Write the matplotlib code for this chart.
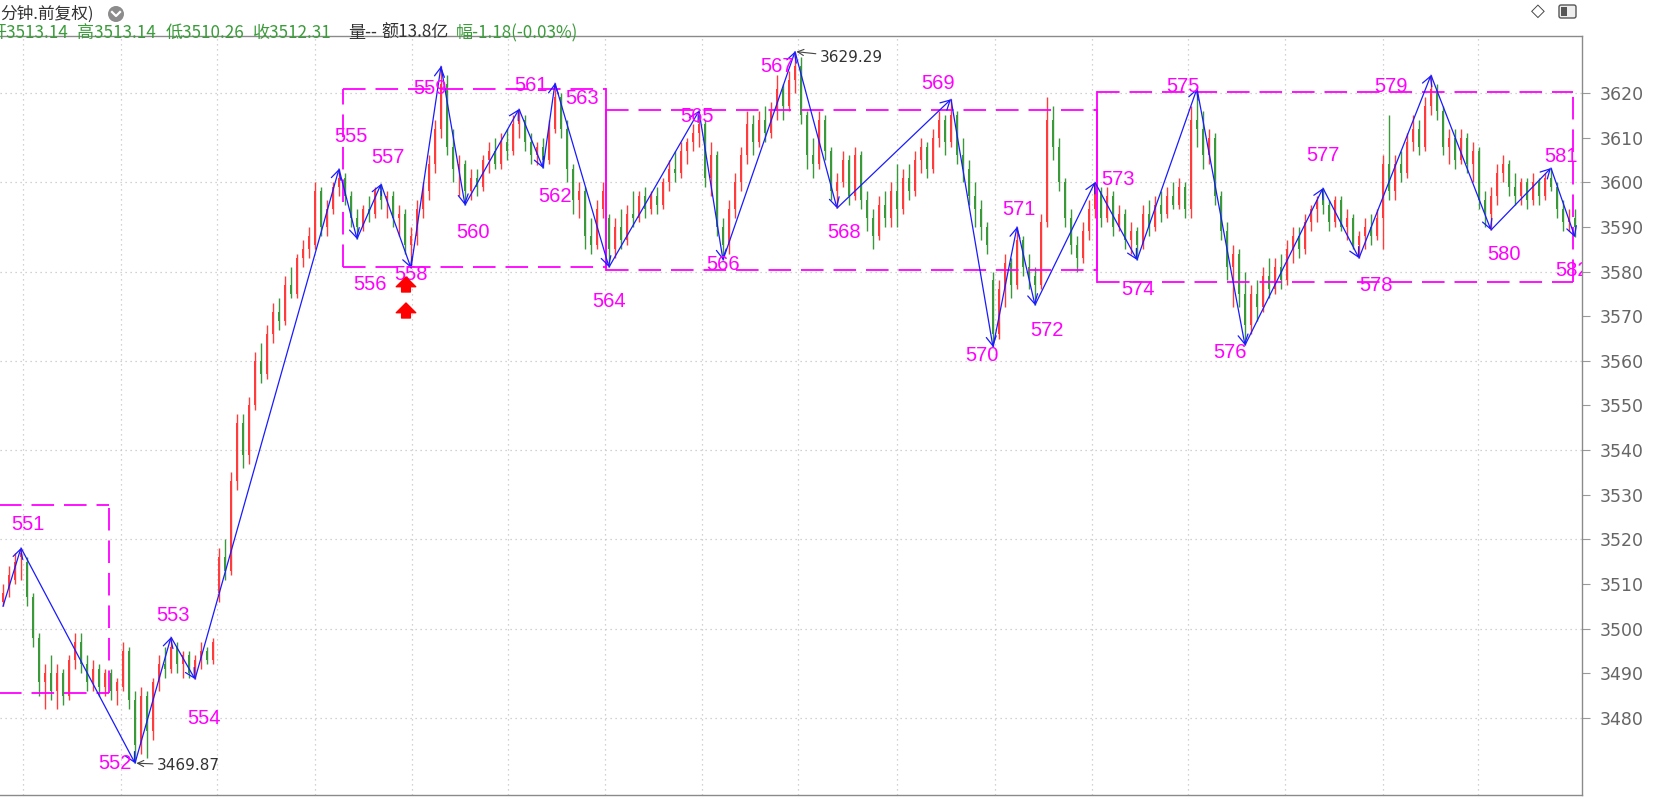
import numpy as np
import matplotlib.pyplot as plt
import matplotlib.transforms as mtransforms
from matplotlib.patches import Circle, FancyBboxPatch, Rectangle
from matplotlib.lines import Line2D

# ---- candle data (one bar per slot) ----
opens = [
    3506, 3509, 3511, 3516, 3515, 3507, 3498, 3488, 3490, 3486,
    3490, 3485, 3493, 3497, 3492, 3488, 3491, 3487, 3490, 3486,
    3487, 3495, 3484, 3474, 3485, 3477, 3488, 3492, 3491, 3496,
    3492, 3494, 3490, 3493, 3495, 3493, 3508, 3516, 3513, 3533,
    3546, 3539, 3550, 3560, 3557, 3566, 3571, 3569, 3577, 3575,
    3583, 3585, 3586, 3598, 3590, 3594, 3599, 3601, 3597, 3592,
    3590, 3594, 3593, 3598, 3596, 3597, 3592, 3593, 3586, 3588,
    3594, 3598, 3604, 3612, 3622, 3608, 3603, 3604, 3598, 3601,
    3599, 3605, 3607, 3604, 3609, 3607, 3613, 3614, 3609, 3606,
    3608, 3605, 3612, 3619, 3612, 3603, 3596, 3598, 3588, 3586,
    3594, 3592, 3585, 3590, 3587, 3593, 3592, 3597, 3594, 3597,
    3595, 3600, 3603, 3602, 3607, 3609, 3611, 3613, 3601, 3606,
    3590, 3586, 3594, 3600, 3606, 3613, 3609, 3614, 3611, 3616,
    3621, 3617, 3623, 3626, 3615, 3606, 3604, 3614, 3607, 3598,
    3600, 3605, 3597, 3606, 3596, 3592, 3588, 3595, 3592, 3598,
    3594, 3601, 3598, 3605, 3608, 3603, 3610, 3614, 3609, 3615,
    3606, 3603, 3597, 3594, 3590, 3578, 3566, 3576, 3582, 3577,
    3587, 3581, 3579, 3577, 3591, 3614, 3608, 3600, 3592, 3586,
    3583, 3589, 3594, 3598, 3592, 3597, 3590, 3593, 3587, 3589,
    3586, 3593, 3590, 3595, 3593, 3597, 3595, 3599, 3594, 3614,
    3612, 3606, 3610, 3597, 3589, 3581, 3584, 3575, 3568, 3575,
    3572, 3579, 3576, 3581, 3578, 3585, 3588, 3585, 3591, 3594,
    3596, 3595, 3591, 3596, 3590, 3592, 3586, 3588, 3590, 3588,
    3592, 3604, 3598, 3604, 3602, 3609, 3612, 3608, 3617, 3621,
    3616, 3608, 3610, 3605, 3610, 3604, 3607, 3596, 3593, 3597,
    3602, 3604, 3599, 3597, 3600, 3596, 3600, 3597, 3601, 3599,
    3594, 3591, 3592,
]
highs = [
    3510, 3514, 3517, 3518.1, 3516, 3508, 3499, 3492, 3494, 3492,
    3491, 3494, 3499, 3499, 3494, 3493, 3492, 3491, 3491, 3489,
    3497, 3496, 3486, 3487, 3486, 3489, 3494, 3496, 3498.1, 3497,
    3495, 3495, 3494, 3497, 3496, 3498, 3518, 3520, 3535, 3548,
    3548, 3552, 3562, 3564, 3568, 3573, 3574, 3579, 3581, 3584,
    3587, 3590, 3600, 3599, 3596, 3600, 3603, 3602, 3598, 3594,
    3595, 3597, 3599, 3599.6, 3598, 3598, 3595, 3594, 3590, 3596,
    3600, 3606, 3614, 3626, 3624, 3612, 3606, 3605, 3603, 3603,
    3606, 3609, 3610, 3611, 3612, 3615, 3616.4, 3615, 3611, 3609,
    3610, 3614, 3622.2, 3620, 3614, 3604, 3600, 3599, 3592, 3596,
    3600, 3593, 3592, 3594, 3595, 3598, 3598, 3599, 3598, 3599,
    3601, 3605, 3607, 3609, 3610, 3613, 3616, 3614, 3609, 3607,
    3592, 3596, 3602, 3608, 3616, 3615, 3616, 3617, 3618, 3624,
    3622, 3625, 3629.29, 3628, 3616, 3610, 3616, 3615, 3608, 3602,
    3607, 3606, 3608, 3607, 3598, 3594, 3597, 3598, 3600, 3604,
    3603, 3604, 3607, 3610, 3609, 3612, 3616, 3615, 3618.6, 3616,
    3610, 3605, 3600, 3596, 3591, 3580, 3578, 3584, 3583, 3590,
    3588, 3584, 3581, 3593, 3619, 3617, 3610, 3601, 3594, 3588,
    3591, 3596, 3600, 3599, 3599, 3598, 3595, 3594, 3591, 3590,
    3595, 3596, 3597, 3598, 3599, 3600, 3601, 3600, 3617, 3621,
    3616, 3612, 3611, 3598, 3591, 3586, 3585, 3580, 3577, 3578,
    3581, 3583, 3583, 3584, 3587, 3590, 3590, 3593, 3595, 3597,
    3598.7, 3596, 3597, 3597, 3594, 3593, 3589, 3592, 3593, 3594,
    3606, 3615, 3606, 3607, 3611, 3615, 3614, 3619, 3624, 3622,
    3617, 3612, 3612, 3612, 3611, 3609, 3608, 3598, 3599, 3604,
    3606, 3605, 3602, 3601, 3601, 3602, 3601, 3602, 3603.2, 3600,
    3596, 3594, 3594,
]
lows = [
    3505, 3507, 3510, 3511, 3505, 3496, 3485, 3482, 3484, 3482,
    3483, 3484, 3491, 3490, 3486, 3486, 3485, 3485, 3484, 3483,
    3486, 3482, 3469.87, 3472, 3471, 3475, 3486, 3489, 3490, 3490,
    3489, 3489, 3488.7, 3491, 3492, 3492, 3506, 3511, 3512, 3531,
    3536, 3537, 3549, 3555, 3556, 3564, 3567, 3568, 3574, 3574,
    3581, 3583, 3585, 3588, 3588, 3593, 3597, 3595, 3590, 3587.3,
    3589, 3591, 3592, 3594, 3592, 3590, 3588, 3584, 3580.8, 3586,
    3592, 3596, 3602, 3610, 3606, 3600, 3597, 3594.9, 3596, 3597,
    3598, 3602, 3603, 3603, 3605, 3606, 3610, 3607, 3604, 3603.8,
    3603.2, 3604, 3611, 3610, 3600, 3593, 3592, 3585, 3584, 3585,
    3592, 3581, 3583, 3585, 3586, 3590, 3591, 3592, 3593, 3593,
    3594, 3598, 3600, 3601, 3604, 3607, 3608, 3599, 3597, 3588,
    3582.6, 3584, 3592, 3598, 3604, 3606, 3608, 3609, 3610, 3614,
    3614, 3616, 3620, 3613, 3603, 3601, 3603, 3605, 3596, 3594.2,
    3599, 3595, 3596, 3594, 3589, 3585, 3587, 3590, 3590, 3590,
    3593, 3596, 3597, 3602, 3601, 3602, 3608, 3606, 3608, 3604,
    3600, 3595, 3590, 3587, 3584, 3563.1, 3565, 3572, 3574, 3576,
    3579, 3576, 3572.5, 3576, 3590, 3605, 3598, 3590, 3584, 3580,
    3582, 3587, 3592, 3590, 3591, 3588, 3589, 3585, 3584, 3582.6,
    3585, 3588, 3589, 3591, 3592, 3594, 3594, 3592, 3592, 3608,
    3603, 3604, 3595, 3587, 3578, 3572, 3572, 3563.5, 3566, 3569,
    3571, 3574, 3575, 3576, 3577, 3582, 3583, 3584, 3589, 3591,
    3593, 3589, 3590, 3589, 3587, 3585, 3583, 3585, 3586, 3587,
    3585, 3596, 3596, 3600, 3601, 3607, 3606, 3607, 3615, 3614,
    3606, 3604, 3603, 3604, 3602, 3600, 3594, 3590, 3589.3, 3595,
    3600, 3597, 3595, 3595, 3594, 3595, 3595, 3596, 3598, 3592,
    3589, 3589, 3587.7,
]
closes = [
    3508, 3512, 3515, 3517, 3507, 3498, 3488, 3490, 3486, 3490,
    3485, 3493, 3497, 3492, 3488, 3491, 3487, 3490, 3486, 3488,
    3495, 3484, 3474, 3485, 3477, 3488, 3492, 3491, 3496, 3492,
    3494, 3490, 3493, 3495, 3493, 3497, 3516, 3513, 3533, 3546,
    3539, 3550, 3560, 3557, 3566, 3571, 3569, 3577, 3575, 3583,
    3585, 3588, 3598, 3590, 3594, 3599, 3601, 3597, 3592, 3590,
    3594, 3593, 3598, 3596, 3597, 3592, 3593, 3586, 3588, 3594,
    3598, 3604, 3612, 3622, 3608, 3603, 3604, 3598, 3601, 3599,
    3605, 3607, 3604, 3609, 3607, 3613, 3614, 3609, 3606, 3608,
    3605, 3612, 3619, 3612, 3603, 3596, 3598, 3588, 3586, 3594,
    3598, 3585, 3590, 3587, 3593, 3592, 3597, 3594, 3597, 3595,
    3600, 3603, 3602, 3607, 3609, 3611, 3613, 3601, 3606, 3590,
    3586, 3594, 3600, 3606, 3613, 3609, 3614, 3611, 3616, 3621,
    3617, 3623, 3626, 3615, 3606, 3604, 3614, 3607, 3598, 3600,
    3605, 3597, 3606, 3596, 3592, 3588, 3595, 3592, 3598, 3594,
    3601, 3598, 3605, 3608, 3603, 3610, 3614, 3609, 3615, 3606,
    3603, 3597, 3594, 3590, 3586, 3566, 3576, 3582, 3577, 3587,
    3581, 3579, 3577, 3591, 3614, 3608, 3600, 3592, 3586, 3583,
    3589, 3594, 3598, 3592, 3597, 3590, 3593, 3587, 3589, 3586,
    3593, 3590, 3595, 3593, 3597, 3595, 3599, 3594, 3614, 3612,
    3606, 3610, 3597, 3589, 3581, 3584, 3575, 3568, 3575, 3572,
    3579, 3576, 3581, 3578, 3585, 3588, 3585, 3591, 3594, 3596,
    3595, 3591, 3596, 3590, 3592, 3586, 3588, 3590, 3588, 3592,
    3604, 3598, 3604, 3602, 3609, 3612, 3608, 3617, 3621, 3616,
    3608, 3610, 3605, 3610, 3604, 3607, 3596, 3593, 3597, 3602,
    3604, 3599, 3597, 3600, 3596, 3600, 3597, 3601, 3599, 3594,
    3591, 3592, 3590,
]

# ---- zigzag pivots (bar index, price) and their wave numbers ----
pivot_idx = [0, 3, 22, 28, 32, 56, 59, 63, 68, 73, 77, 86, 90, 92, 101, 116, 120,
             132, 139, 158, 165, 169, 172, 182, 189, 199, 207, 220, 226, 238, 248, 258, 262]
pivot_val = [3505, 3518.1, 3469.87, 3498.1, 3488.7, 3603, 3587.3, 3599.6, 3580.8, 3626,
             3594.9, 3616.4, 3603.2, 3622.2, 3581, 3616, 3582.6, 3629.29, 3594.2, 3618.6,
             3563.1, 3590, 3572.5, 3600, 3582.6, 3621, 3563.5, 3598.7, 3583, 3624,
             3589.3, 3603.2, 3587.7]
pivot_names = ['551', '552', '553', '554', '555', '556', '557', '558', '559', '560',
               '561', '562', '563', '564', '565', '566', '567', '568', '569', '570',
               '571', '572', '573', '574', '575', '576', '577', '578', '579', '580',
               '581', '582']

# consolidation boxes (bar index span, price span)
box_x0 = [-1, 56.67, 100.5, 182.33]
box_x1 = [17.67, 100.5, 182.33, 261.67]
box_top = [3527.7, 3620.9, 3616.2, 3620.2]
box_bot = [3485.7, 3581.0, 3580.3, 3577.7]

# label offsets from the pivot, in pixels (right, down)
label_off = [(7, -23), (-20, 0), (2, -22), (9, 39), (12, -32), (13, 46), (7, -27), (0, 7),
             (-11, 22), (8, 27), (12, -24), (12, 29), (27, 15), (0, 34), (-2, 6), (0, 5),
             (-18, 15), (7, 24), (-13, -16), (-11, 8), (2, -17), (12, 25), (23, -3), (1, 30),
             (-14, -2), (-15, 7), (0, -33), (17, 27), (-40, 11), (13, 24), (10, -11), (-3, 33)]
left_solid = [False, False, True, True]
right_solid = [False, True, True, False]

RED = '#ff3b3b'
GREEN = '#3a9a3a'
MAGENTA = '#ff00ff'
BLUE = '#1a1aff'

W, H = 1657, 799
fig = plt.figure(figsize=(W / 100, H / 100), dpi=100)
ax = fig.add_axes([0, 4 / H, 1582 / W, (795 - 36) / H])
ax.set_xlim(-0.5, 263.17)
ax.set_ylim(3462.74, 3632.77)

# grid
for v in range(3480, 3621, 20):
    ax.axhline(v, color='#c4c4c4', lw=0.9, ls=(0, (1, 3)), zorder=0)
grid_px = [23, 121, 217, 315, 412, 508, 605, 702, 798, 897, 995, 1092, 1188, 1285, 1383, 1478]
for gx in grid_px:
    ax.axvline((gx - 3) / 6, color='#c4c4c4', lw=0.9, ls=(0, (1, 3)), zorder=0)

# candles
o = np.array(opens, float)
h = np.array(highs, float)
l = np.array(lows, float)
c = np.array(closes, float)
x = np.arange(len(c))
up = c >= o
for mask, col in [(up, RED), (~up, GREEN)]:
    ax.vlines(x[mask], l[mask], h[mask], color=col, lw=1.0, zorder=2)
    body = np.maximum(np.abs(c[mask] - o[mask]), 0.3)
    ax.bar(x[mask], body, bottom=np.minimum(o[mask], c[mask]), width=0.45,
           color=col, linewidth=0, zorder=2)

# boxes
dash = (0, (12.5, 5.5))
for k in range(len(box_x0)):
    x0, x1, t, b = box_x0[k], box_x1[k], box_top[k], box_bot[k]
    ax.plot([x0, x1], [t, t], color=MAGENTA, lw=1.3, ls=dash, zorder=3)
    ax.plot([x0, x1], [b, b], color=MAGENTA, lw=1.3, ls=dash, zorder=3)
    ax.plot([x0, x0], [b, t], color=MAGENTA, lw=1.3, ls='-' if left_solid[k] else dash, zorder=3)
    ax.plot([x1, x1], [b, t], color=MAGENTA, lw=1.3, ls='-' if right_solid[k] else dash, zorder=3)

# zigzag with arrow heads
for k in range(len(pivot_idx) - 1):
    ax.annotate('', xy=(pivot_idx[k + 1], pivot_val[k + 1]),
                xytext=(pivot_idx[k], pivot_val[k]),
                arrowprops=dict(arrowstyle='->,head_length=0.55,head_width=0.3', color=BLUE,
                                lw=0.9, shrinkA=0, shrinkB=0, mutation_scale=12), zorder=4)

# wave numbers
for k, name in enumerate(pivot_names):
    dx, dy = label_off[k]
    t = ax.annotate(name, xy=(pivot_idx[k + 1], pivot_val[k + 1]), xytext=(dx, -dy),
                    textcoords='offset pixels', ha='center', va='center',
                    fontsize=14.5, color=MAGENTA, family='Liberation Sans', zorder=5)
    t.set_clip_on(True)
    t.set_clip_box(ax.bbox)

# extreme price notes
ax.annotate('3629.29', xy=(132, 3629.29), xytext=(25, -6), textcoords='offset pixels',
            ha='left', va='center', fontsize=11, color='#333333',
            arrowprops=dict(arrowstyle='->', color='#444444', lw=0.8, shrinkA=1, shrinkB=1))
ax.annotate('3469.87', xy=(22, 3469.87), xytext=(22, -2), textcoords='offset pixels',
            ha='left', va='center', fontsize=11, color='#333333',
            arrowprops=dict(arrowstyle='->', color='#444444', lw=0.8, shrinkA=1, shrinkB=1))

# buy signal arrows under 558
px, py = ax.transData.transform((pivot_idx[8], pivot_val[8]))
tr = mtransforms.Affine2D().translate(px, py)
for y0, y1 in [(-24, -9), (-50, -35)]:
    ax.annotate('', xy=(-5, y1), xycoords=tr, xytext=(-5, y0), textcoords=tr,
                arrowprops=dict(arrowstyle='simple,head_length=0.5,head_width=1.0,tail_width=0.45',
                                color='#ff0000', shrinkA=0, shrinkB=0, mutation_scale=14), zorder=5)

# axis styling
for side in ['top', 'right', 'bottom']:
    ax.spines[side].set_color('#8a8a8a')
    ax.spines[side].set_linewidth(1.0)
ax.spines['left'].set_visible(False)
ax.set_xticks([])
ax.yaxis.tick_right()
ax.set_yticks(np.arange(3480, 3621, 10))
ax.tick_params(axis='y', length=6, width=0.8, color='#999999', labelcolor='#666666',
               labelsize=12.5, pad=7)

# header
hdr = ['Noto Sans CJK SC', 'DejaVu Sans']
fig.text(0, 1 - 14 / H, '分钟.前复权)', fontsize=12, color='#333333', family=hdr,
         va='center', ha='left')
idt = mtransforms.IdentityTransform()
fig.add_artist(Circle((116, H - 14), 8, transform=idt, facecolor='#8c8c8c', edgecolor='none'))
fig.add_artist(Line2D([112, 116, 120], [H - 12, H - 16, H - 12], transform=idt,
                      color='white', lw=1.6))

green_txt = '#3c9c3c'
parts = [(-11, '开3513.14', green_txt), (77, '高3513.14', green_txt),
         (166, '低3510.26', green_txt), (253, '收3512.31', green_txt),
         (348, '量--', '#333333'), (381, '额13.8亿', '#333333'),
         (456, '幅-1.18(-0.03%)', green_txt)]
for px_, s, col in parts:
    fig.text(px_ / W, 1 - 33 / H, s, fontsize=12.3, color=col, family=hdr,
             va='center', ha='left', zorder=0)

fig.text(1538 / W, 1 - 11 / H, '◇', fontsize=13, color='#444444', family='DejaVu Sans',
         va='center', ha='center')
fig.add_artist(FancyBboxPatch((1559, H - 18), 17, 13, boxstyle='round,pad=0,rounding_size=2',
                              transform=idt, facecolor='#eeeeee', edgecolor='#555555', lw=1))
fig.add_artist(Rectangle((1561, H - 16), 6, 9, transform=idt, facecolor='#555555',
                         edgecolor='none'))

fig.savefig('out.png', dpi=100, facecolor='white')
